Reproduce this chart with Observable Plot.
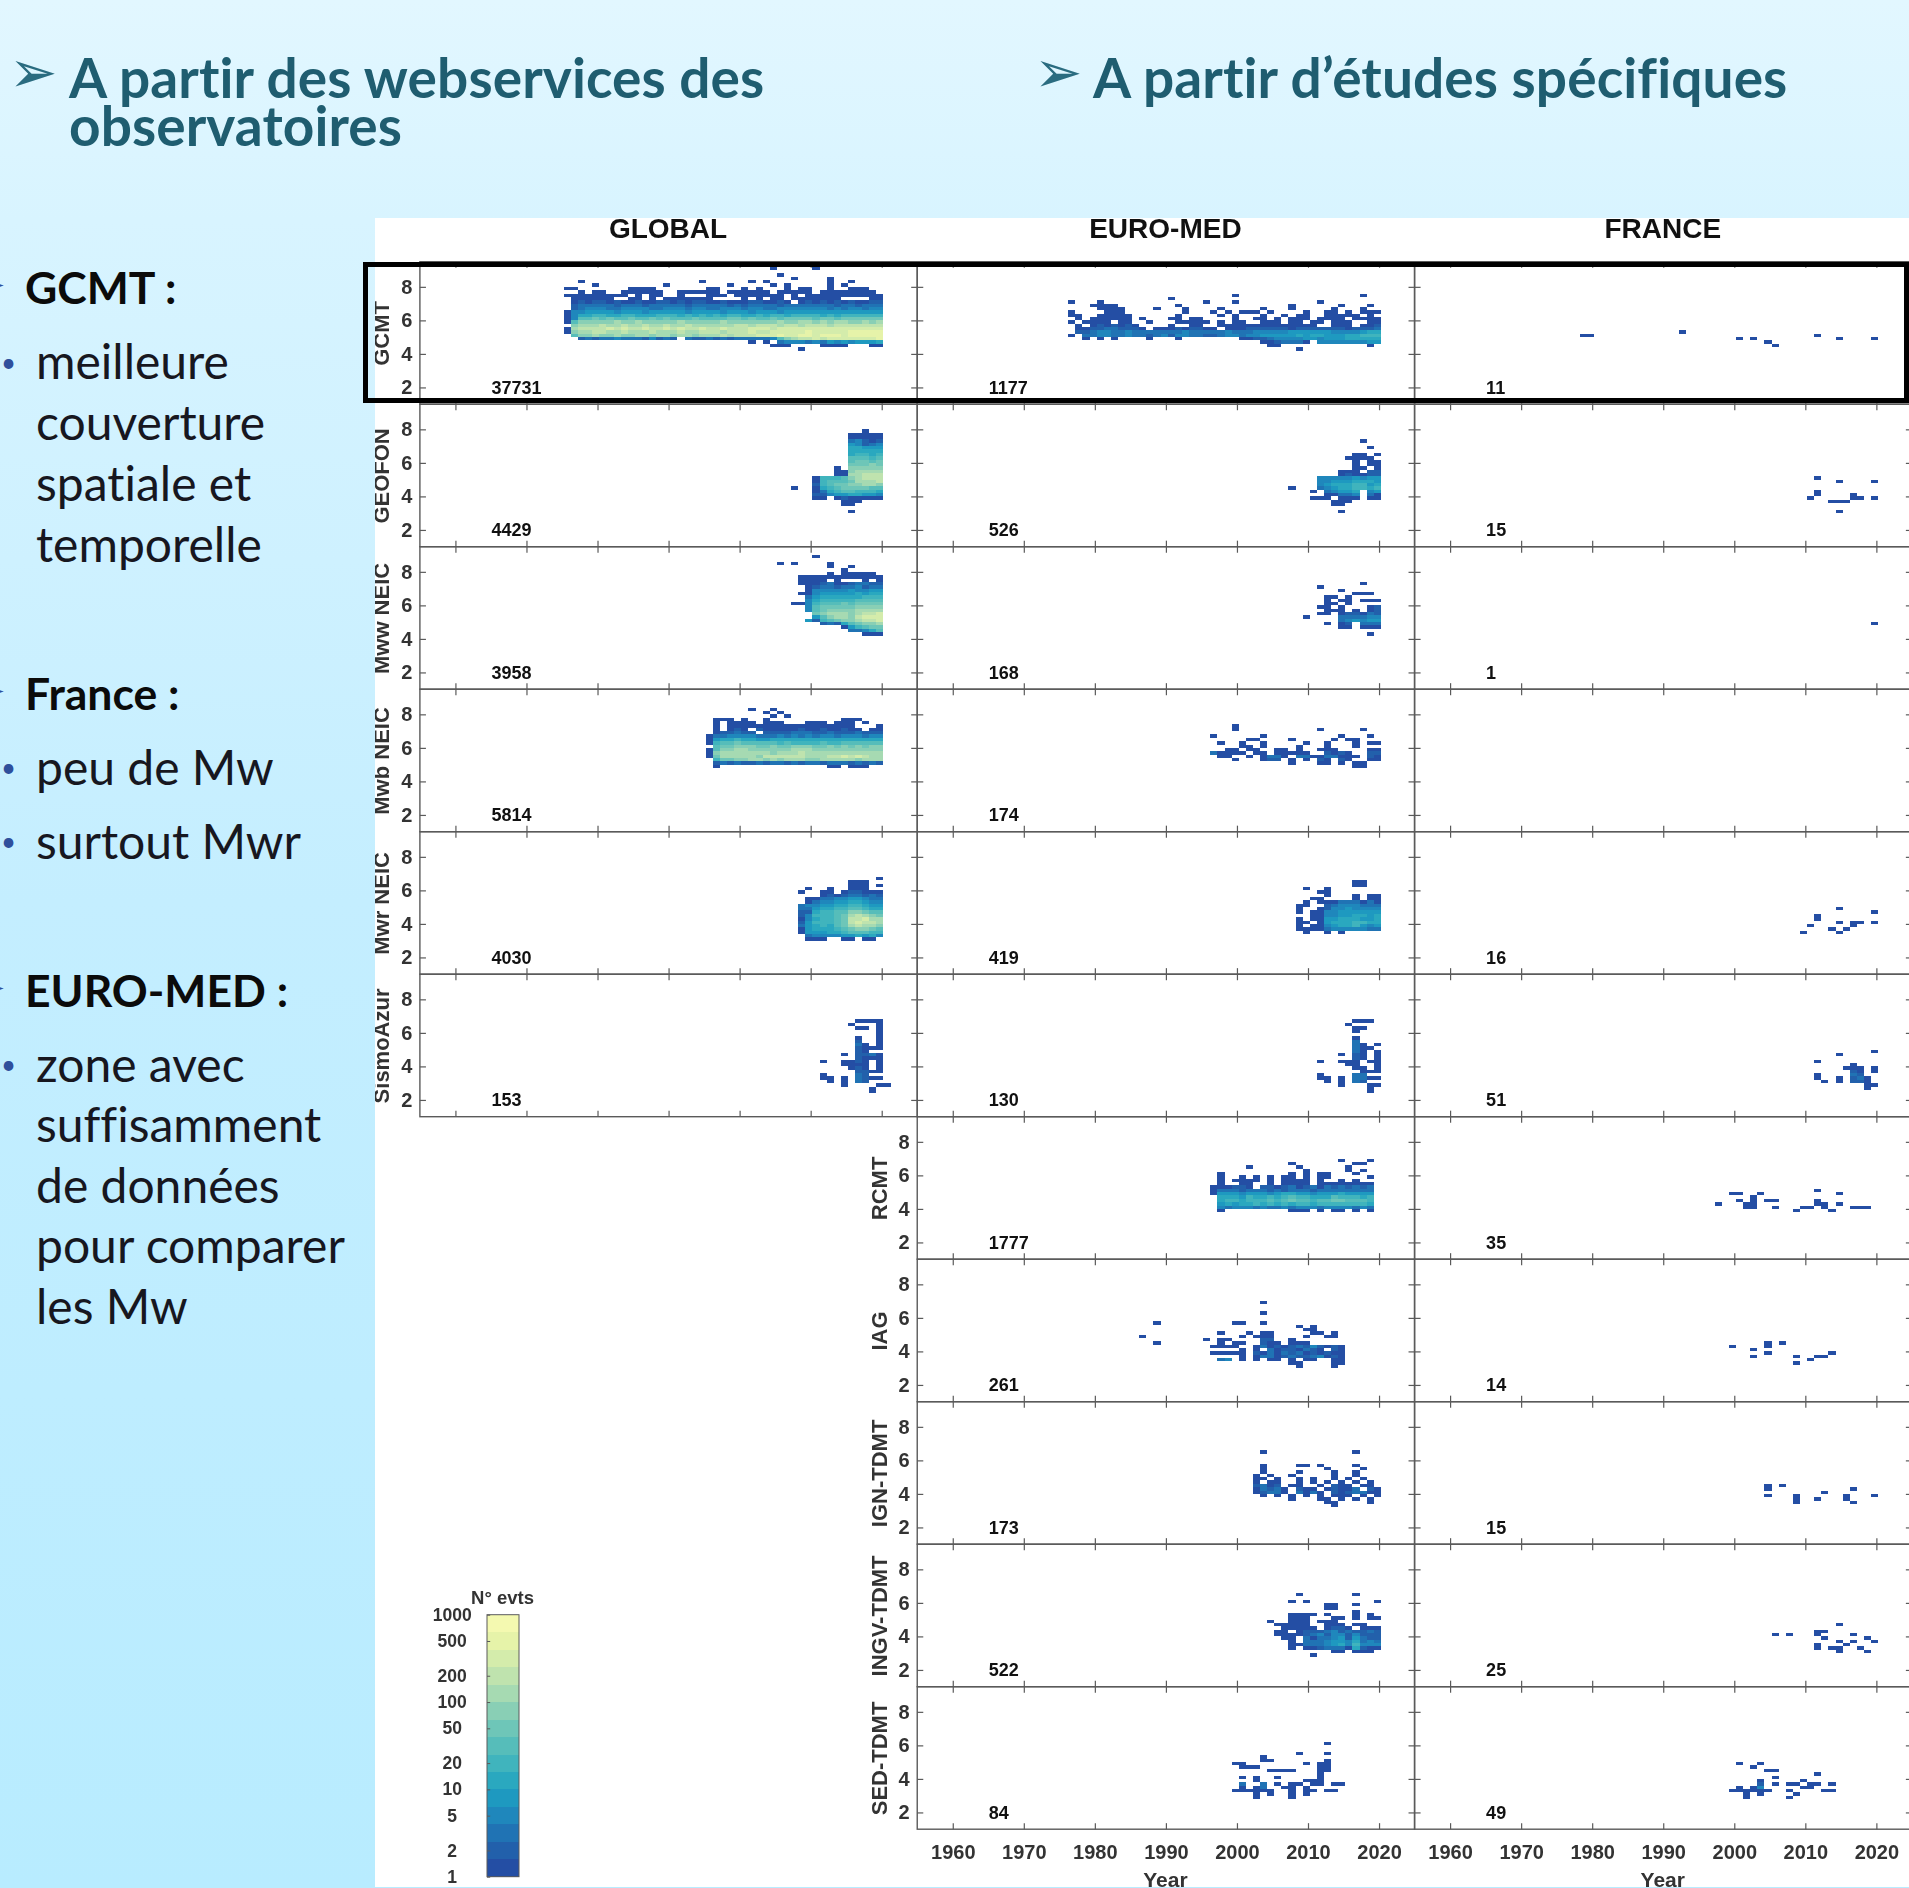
<!DOCTYPE html>
<html lang="fr">
<head>
<meta charset="utf-8">
<script src="https://cdn.jsdelivr.net/npm/d3@7"></script>
<script src="https://cdn.jsdelivr.net/npm/@observablehq/plot@0.6"></script>
<style>
html,body{margin:0;padding:0;width:1909px;height:1888px;overflow:hidden}
body{position:relative;background:linear-gradient(180deg,#e2f7ff 0,#d8f4ff 220px,#c4eeff 900px,#b8ecff 1888px);font-family:Lato,sans-serif;font-variant-ligatures:none}
.t{position:absolute;white-space:nowrap;line-height:1}
.h{font-weight:700;color:#1f5d70;font-size:55px;letter-spacing:.1px}
.b{font-weight:700;color:#0b0b0b;font-size:44.5px}
.p{font-weight:400;color:#17171f;font-size:48px}
.dot{color:#2f4f9c;font-size:26px}
.arr{font-family:"DejaVu Sans";color:#2a6c80;font-size:58px}
.mini{font-family:"DejaVu Sans";color:#2f4f9c;font-size:30px}
#box{position:absolute;left:363px;top:262px;width:1536px;height:131px;border:5px solid #000}
svg{position:absolute;display:block}
</style>
</head>
<body>
<script>
// ---- Text of the slide
const HEADINGS = [["A partir des webservices des",69,50],["observatoires",69,98],["A partir d’études spécifiques",1093,50]];
const ARROWS = [["➢",9,43],["➢",1034,43]];
const BOLD_LINES = [["GCMT :",25,265],["France :",25,671],["EURO-MED :",25,968]];
const PLAIN_LINES = [["meilleure",36,337],["couverture",36,398],["spatiale et",36,459],["temporelle",36,520],["peu de Mw",36,743],["surtout Mwr",36,817],["zone avec",36,1040],["suffisamment",36,1100],["de données",36,1161],["pour comparer",36,1221],["les Mw",36,1282]];
const BULLETS = [["•",1,349],["•",1,754],["•",1,828],["•",1,1051]];
const MINI_ARROWS = [["➢",-20,270],["➢",-20,676],["➢",-20,973]];

// ---- Chart structure
const COLUMNS = ["GLOBAL","EURO-MED","FRANCE"];
const ROWS = ["GCMT","GEOFON","Mww NEIC","Mwb NEIC","Mwr NEIC","SismoAzur","RCMT","IAG","IGN-TDMT","INGV-TDMT","SED-TDMT"];
const YEAR_TICKS = [1960,1970,1980,1990,2000,2010,2020];
const MAG_TICKS = [2,4,6,8];
const LEGEND_TICKS = [1,2,5,10,20,50,100,200,500,1000];
const COLOR_EDGES = [1.6,2.5,4,6.3,10,16,25,40,63,100,158,251,398,631];
const COLORS = ["#244ea4","#2260ab","#2073b4","#1f87bc","#1e99c0","#2aa8bf","#40b4bd","#56bdba","#6ec6b8","#89cfb5","#a6dab2","#bfe3ae","#d4ecab","#e6f3a9","#f4f9b0"];
const LEVEL_COUNTS = [1,2,3,5,8,13,20,32,50,80,126,200,316,500,800];

// ---- Cells: "magnitude firstYear levels" (levels read by colour band, . = empty, spaces only group years)
const GCMT_GLOBAL = [
"9.0 1976 ..... ..... ..... ..... ..... ....1 ..... 1.... .....",
"8.6 1976 ..... ..... ..... ..... ..... ..... 1.... ..... .....",
"8.4 1976 ..... ..... ..... ..... ..... ..... ..1.. ..1.. .....",
"8.2 1976 ..1.. ..... ..... ....1 ..... .1.1. ..... ..1.. 1....",
"8.0 1976 ....1 ..... ....1 ..... ...1. ....1 .1... ..1.1 .....",
"7.8 1976 11... ....1 111.. ..... 11... 1.1.. .1.11 ..1.. 111..",
"7.6 1976 ..1.1 1..11 1111. .1111 11.11 1111. 11111 .1111 1111.",
"7.4 1976 11111 1111. 1.11. .1... 111.1 11111 1.1.1 11111 11111",
"7.2 1976 .1111 11..1 1.1.1 11111 1.... 1.1.1 1.111 1111. ...11",
"7.0 1976 .1212 21211 21122 12122 11211 12211 21.12 12121 21122",
"6.8 1976 .2333 33233 32333 33233 33323 23333 23333 33323 32333",
"6.6 1976 .2344 43344 44334 44344 33444 34433 44444 44343 44344",
"6.4 1976 14455 55455 54555 55455 55455 54555 45555 55555 55555",
"6.2 1976 14667 76677 66677 76767 67677 66767 76777 76767 77777",
"6.0 1976 14889 89889 88989 88898 88899 89889 89999 89989 99999",
"5.8 1976 18aaa aabaa baaaa abaaa aabaa aaaaa baabb abab b aabab",
"5.6 1976 .abbb cbbcb bcbbc bbcbb bbbbc cbccc bccbc ccbcc ccccc",
"5.4 1976 1bccc cdcdc cdccd cdccd ccdcc cdddc ddddd ddddd ddddd",
"5.2 1976 1abbc cbbcb bbcbb bcbbc ccbcc cdccd dddde ddddd eeeee",
"5.0 1976 .8aab aabaa bbabb abbab bbcbc ccddd eddee deeed eeeee",
"4.8 1976 ..232 33433 32423 2.322 32323 33334 8abcc dcddd dddde",
"4.6 1976 ..... ..... ..... ..... ..... .1.1. 34443 43545 45556",
"4.4 1976 ..... ..... ..... ..... ..... ....1 11... .1111 ...11",
"4.2 1976 ..... ..... ..... ..... ..... ..... ...1. ..... ....."];
const GEOFON_GLOBAL = [
"7.8 2011 ..... ..1..",
"7.6 2011 ..... 11111",
"7.4 2011 ..... 11111",
"7.2 2011 ..... 34212",
"7.0 2011 ..... 54234",
"6.8 2011 ..... 66555",
"6.6 2011 ..... 66666",
"6.4 2011 ..... 67767",
"6.2 2011 ..... 88878",
"6.0 2011 ..... 89989",
"5.8 2011 ..... 999a9",
"5.6 2011 ...1. aaaaa",
"5.4 2011 ...11 abbbb",
"5.2 2011 ...11 bbccc",
"5.0 2011 17778 abccc",
"4.8 2011 17888 9bbbc",
"4.6 2011 27899 aabba",
"4.4 2008 1.. 16789 99988",
"4.2 2011 13678 87776",
"4.0 2011 22455 66554",
"3.8 2011 11.12 11111",
"3.6 2011 ....1 11...",
"3.4 2011 ....1 1....",
"3.0 2011 ..... 1...."];
const MWW_GLOBAL = [
"8.8 2011 1",
"8.4 2006 1.1.. ..1",
"8.2 2013 1..1",
"8.0 2015 1",
"7.8 2013 1.1 1111",
"7.6 2009 11 11111 11111",
"7.4 2009 11 11.1. ..1.1",
"7.2 2009 11 12311 23322",
"7.0 2009 .1 23323 34233",
"6.8 2009 .1 44444 54455",
"6.6 2009 11 45555 56566",
"6.4 2009 .3 56666 66777",
"6.2 2009 .4 67777 78888",
"6.0 2008 114 78889 89999",
"5.8 2010 4 89999 9aaaa",
"5.6 2010 4 89aaa abbbb",
"5.4 2011 9abbb abccd",
"5.2 2011 58abb acddd",
"5.0 2010 5 2789a abccd",
"4.8 2012 232 689aa b",
"4.6 2015 157899",
"4.4 2016 33468",
"4.2 2018 111"];
const MWB_GLOBAL = [
"8.2 1996 ..... .1..1 ..... ..... .....",
"8.0 1996 ..... ...1. 1.... ..... .....",
"7.8 1996 ..... ....1 .1... ..... .....",
"7.6 1996 .111. 1..1. ..... ....1 11...",
"7.4 1996 .1.11 11.11 1...1 11.11 1.1..",
"7.2 1996 .1.11 11111 11111 11111 1...1",
"7.0 1996 .1.12 1.211 11121 12112 11.11",
"6.8 1996 .1223 22.22 22333 22322 23222",
"6.6 1996 13344 44333 43434 34434 44344",
"6.4 1996 15667 66556 66666 66666 66666",
"6.2 1996 17889 88888 78777 78778 88888",
"6.0 1996 .899a aa99a 99aaa 99a9a 9a9aa",
"5.8 1996 18aab baaaa aabbb aaaaa aaaaa",
"5.6 1996 1abbb bbbba bbbcb bbbbb bbbbb",
"5.4 1996 19bbb bbacc ccccb bbccd cdcbb",
"5.2 1996 .799a abbab abbba abbbb babbb",
"5.0 1996 .2323 22323 32323 32333 23232",
"4.8 1996 .1... ..... ..... ..11. 111.."];
const MWR_GLOBAL = [
"6.6 2020 1",
"6.4 2016 111",
"6.2 2016 111.1",
"6.0 2009 .1 ..1.. 111..",
"5.8 2009 1. .11.1 22111",
"5.6 2009 .. .1212 33232",
"5.4 2009 .1 13344 55433",
"5.2 2009 .1 34455 66544",
"5.0 2009 34 45566 77655",
"4.8 2009 33 56677 88766",
"4.6 2009 22 67788 aa988",
"4.4 2009 24 77789 bcba9",
"4.2 2009 14 67789 ccdbb",
"4.0 2009 25 77789 cdccb",
"3.8 2009 35 67689 bcbba",
"3.6 2009 15 66678 9aa98",
"3.4 2009 15 55667 88877",
"3.2 2009 .3 44445 56564",
"3.0 2010 111..11.11"];
const SISMO_GLOBAL = [
"6.6 2017 1111",
"6.4 2016 1...1",
"6.2 2017 11.1",
"6.0 2020 1",
"5.8 2020 1",
"5.6 2017 1..1",
"5.4 2017 2..1",
"5.2 2017 31.1",
"5.0 2017 2111",
"4.8 2017 21",
"4.6 2015 1.22 31",
"4.4 2017 2111",
"4.2 2012 1..1 121.1",
"4.0 2015 1111 .1",
"3.8 2016 121.1",
"3.6 2017 2211",
"3.4 2012 1.... 32",
"3.2 2012 11.1 .3211",
"3.0 2013 1.1 .32",
"2.8 2015 1.... 11",
"2.6 2019 1",
"2.4 2019 1"];
const GCMT_EURO = [
"7.4 1976 ..... ..... ..... ..... ....1 ..... ..... ..... ..1..",
"7.2 1976 ..... ..... ..... 1.... ..... ..... ..... ..... .....",
"7.0 1976 .1... 1.... ..... ..... 1...1 ..... ..... .1... .....",
"6.8 1976 ....1 111.. ..... .1... ..... ..... ..1.. ....1 ...1.",
"6.6 1976 ..... 1111. ...1. ..1.. ..1.. ...1. ..1.. ...1. ..1..",
"6.4 1976 .1... .111. ..... ..1.. .1.1. 111.1 ....1 ..11. 1.111",
"6.2 1976 .11.. 11111 ..... .1... ..1.1 ...1. .1.11 ..111 11.1.",
"6.0 1976 ..1.1 11111 .1... 11.11 ....1 ..11. 1.111 .1111 .1111",
"5.8 1976 .1.11 11.11 ..1.. .1111 1.1.1 1..11 1.11. 11.11 1..11",
"5.6 1976 ..1.1 21212 1.... 1..11 ..111 11111 11111 1..11 1.112",
"5.4 1976 ..112 23322 21.11 12122 11.11 12222 22122 22222 12223",
"5.2 1976 ..223 44334 33333 33433 33343 33444 44555 55544 44566",
"5.0 1976 .1.33 44334 33234 24433 22344 34455 55565 66555 66777",
"4.8 1976 ...1. 1.1.. ..1.. .1... ..... 11223 44445 54555 66666",
"4.6 1976 ..... ..... ..... ..... ..... ...11 23331 .4444 44455",
"4.4 1976 ..... ..... ..... ..... ..... ....1 1.... ..... ...1.",
"4.2 1976 ..... ..... ..... ..... ..... ..... ...1. ..... ....."];
const GEOFON_EURO = [
"7.2 2011 ..... ..1..",
"6.8 2011 ..... ...1.",
"6.4 2011 ..... .11.1",
"6.2 2011 ..... 1111.",
"6.0 2011 ..... .1.11",
"5.8 2011 ..... .1.11",
"5.6 2011 ..... .11.1",
"5.4 2011 ....1 11.22",
"5.2 2011 ....1 21122",
"5.0 2011 .4444 45455",
"4.8 2011 .4455 56665",
"4.6 2011 .4566 67756",
"4.4 2008 1.. .3456 67767",
"4.2 2011 1.345 56.45",
"4.0 2011 ..113 34.31",
"3.8 2011 111.1 11.11",
"3.6 2011 ...11 1....",
"3.4 2011 ...11 .....",
"3.0 2011 ....1 ....."];
const MWW_EURO = [
"7.2 2011 ..... ..1..",
"7.0 2011 .1... .....",
"6.8 2011 ....1 .....",
"6.6 2011 ..... .111.",
"6.4 2011 ..11. 1....",
"6.2 2011 ..1.1 1.111",
"6.0 2011 ..11. 1....",
"5.8 2011 .11.1 ...12",
"5.6 2011 ..111 .1.12",
"5.4 2011 .11.1 22132",
"5.2 2010 1 ....3 33344",
"5.0 2011 ....3 45455",
"4.8 2011 ..1.1 2.333",
"4.6 2011 ....1 1.111",
"4.2 2011 ..... ...1."];
const MWB_EURO = [
"7.2 1996 ....1 ..... ..... ..... .....",
"7.0 1996 ....1 ..... ..... .1... ..1..",
"6.6 1996 .1... ...1. ..... ....1 ...1.",
"6.4 1996 ..... .11.. ..1.. ...1. 11...",
"6.2 1996 ..1.. 1..1. ....1 ..1.. .1.11",
"6.0 1996 ..... 11.1. ...1. ..1.. .1...",
"5.8 1996 ...11 .11.. 11.1. .111. ...11",
"5.6 1996 .3111 1.11. 11111 ..212 1..22",
"5.4 1996 ..11. .1.13 31.33 11331 11.21",
"5.2 1996 ....1 ...12 2.1.1 .21.2 1..11",
"5.0 1996 ..... ..... ..1.. .11.1 .11..",
"4.8 1996 ..... ..... ..... ..... .11.."];
const MWR_EURO = [
"6.4 2009 .. ..... .11..",
"6.2 2009 .. ..... .11..",
"6.0 2009 .1 ..1.. .....",
"5.8 2009 .. .11.. .....",
"5.6 2009 .. ..1.. .1.11",
"5.4 2009 .. 11... .1.11",
"5.2 2009 .1 .1113 33131",
"5.0 2009 11 ..234 44333",
"4.8 2009 1. .1244 54444",
"4.6 2009 1. 11445 55555",
"4.4 2009 .. 11445 56656",
"4.2 2009 1. 11556 66556",
"4.0 2009 11 .1566 67766",
"3.8 2009 1. 11456 67545",
"3.6 2009 11 11344 44433",
"3.4 2009 .1 ..1.1 ....."];
const SISMO_EURO = [
"6.6 2012 .... .111.",
"6.4 2012 .... 1....",
"6.2 2012 .... .11..",
"6.0 2012 .... .1...",
"5.6 2012 .... .1...",
"5.4 2012 .... .3...",
"5.2 2012 .... .31.1",
"5.0 2012 .... .311.",
"4.8 2012 .... .31.1",
"4.6 2012 ...1 .21.1",
"4.4 2012 .... .21.1",
"4.2 2012 1..1 11.11",
"4.0 2012 .... 11..1",
"3.8 2012 .... .11.1",
"3.6 2012 .... ..111",
"3.4 2012 1... .33..",
"3.2 2012 11.1 .3311",
"3.0 2012 .1.1 .32..",
"2.8 2012 ...1 ...11",
"2.6 2012 .... ...1.",
"2.4 2012 .... ...1."];
const RCMT_EURO = [
"6.8 1996 ..... ..... ..... ....1 ...1",
"6.6 1996 ..... ..... ..1.. ..... .11.",
"6.4 1996 ..... .1... ...1. ..... 1...",
"6.2 1996 ..... ..... ....1 ..... 1.1.",
"6.0 1996 ..1.. ..... ..1.1 .11.. .1..",
"5.8 1996 ..1.. 1.1.1 .11.1 .11.. ...1",
"5.6 1996 ..1.1 111.1 .1111 .1..1 .1..",
"5.4 1996 ..1.. 11..1 .1111 .1111 1111",
"5.2 1996 .1112 21.22 12312 31323 2323",
"5.0 1996 .1333 23332 32333 23333 3333",
"4.8 1996 .1555 45554 56655 45556 5555",
"4.6 1996 ..666 57667 67877 66687 7767",
"4.4 1996 ..677 67778 78988 78899 8887",
"4.2 1996 ..565 66767 67677 67777 7776",
"4.0 1996 ..434 44343 34344 43444 4343",
"3.8 1996 ..1.. ..... ..111 .1.11 .1.1"];
const IAG_EURO = [
"6.8 1996 ..... ...1.",
"6.2 1996 ..... ...1.",
"5.6 1989 1",
"5.6 1996 ....1 1..1.",
"5.4 1996 ..... ..... ...1. 1....",
"5.2 1996 ..... ..... ....1 1....",
"5.0 1996 ..1.. .1.11 ..... 11.1.",
"4.8 1987 1",
"4.8 1996 ..... 1.111 ....1 ..11.",
"4.6 1996 1.11. ...22 ..1..",
"4.4 1989 1",
"4.4 1996 ..1.1 1..21 1.111 .....",
"4.2 1996 .1111 ..131 21232 42121",
"4.0 1996 ..... 1.1.3 12213 21.21",
"3.8 1996 .1111 1.213 13231 21211",
"3.6 1996 ..... 1.133 12322 34121",
"3.4 1996 ..34. 1.1.1 1.1.1 1..11",
"3.2 1996 ..... ..... ..11. ...11",
"3.0 1996 ..... ..... ...1. ...1."];
const IGN_EURO = [
"6.4 2001 ...1. ..... ..... .1...",
"5.6 2001 ...1. ...11 .1... .1...",
"5.4 2001 ...1. ..... ..1.. ..1..",
"5.2 2001 ...1. ...1. ...1. .1...",
"5.0 2001 ..1.1 ..1.. ...1. .1...",
"4.8 2001 ..11. 1..1. 1..1. 1.1..",
"4.6 2001 ..1.1 1..1. 1.1.1 .1.1.",
"4.4 2001 ..231 2.11. .1.21 1.11.",
"4.2 2001 ..132 31.21 1.121 13.21",
"4.0 2001 ..123 31.31 31.21 23311",
"3.8 2001 ...1. 1.1.1 .1.11 1.1.1",
"3.6 2001 ..... ..1.. .11.1 .1.1.",
"3.4 2001 ..... ..... ..11. ...1.",
"3.2 2001 ..... ..... ...1. ....."];
const INGV_EURO = [
"6.4 2005 . ...1. ..... .1...",
"6.0 2005 . ..1.1 ..... ....1",
"5.8 2005 . ..... ..11. .1...",
"5.6 2005 . ..... ..11. .....",
"5.4 2005 . ..... ..... .1...",
"5.2 2005 . ..111 1.1.. .1.1.",
"5.0 2005 . ..111 ...11 .1.11",
"4.8 2005 1 ..111 .111. .....",
"4.6 2005 . 11111 ..111 .11..",
"4.4 2005 . .1111 1.122 1.111",
"4.2 2005 . 11.12 22342 32232",
"4.0 2005 . 11112 34244 24222",
"3.8 2005 . .11.3 13345 25322",
"3.6 2005 . ..1.3 33455 46343",
"3.4 2005 . ..113 33456 47444",
"3.2 2005 . ..1.1 12333 16211",
"3.0 2005 . ..... ...11 .111.",
"2.8 2005 . ..... 1.... ....."];
const SED_EURO = [
"6.0 2000 . ..... ..... ..1..",
"5.4 2000 . ..... ...1. ..1..",
"5.2 2000 . ...1. ..... .....",
"5.0 2000 . ...11 ..... ..1..",
"4.8 2000 1 1.... ....1 .11..",
"4.6 2000 . 111.. ..... .11..",
"4.4 2000 . ....1 111.. .11..",
"4.2 2000 . ..... ..... .1...",
"4.0 2000 . 1.1.. 1.... .1...",
"3.8 2000 . ..1.. ....1 11...",
"3.6 2000 . 3..3. 1.11. 11.11",
"3.4 2000 . 1.13. .11.1 .....",
"3.2 2000 1 11111 ..1.1 1.11.",
"3.0 2000 . ..1.1 ..1.1 .....",
"2.8 2000 . ..1.. ..1.. ....."];
const GCMT_FRANCE = ["5.2 1993 1","5.0 1979 11","5.0 2012 1","4.8 2001 1.1","4.8 2015 1","4.8 2020 1","4.6 2005 1","4.4 2006 1"];
const GEOFON_FRANCE = ["5.0 2012 1","4.8 2015 1","4.8 2020 1","4.2 2012 1","4.0 2012 1","4.0 2017 1","3.8 2011 1","3.8 2017 11.1","3.6 2014 111","3.0 2015 1"];
const MWW_FRANCE = ["4.8 2020 1"];
const MWB_FRANCE = [];
const MWR_FRANCE = ["4.8 2015 1","4.6 2020 1","4.4 2012 1","4.2 2012 1","4.0 2015 1.11.1","3.8 2011 1","3.8 2017 1","3.6 2014 1.1","3.4 2010 1","3.4 2015 1"];
const SISMO_FRANCE = ["4.8 2020 1","4.6 2015 1","4.2 2012 1","4.0 2017 1","3.8 2016 111.1","3.6 2017 21.1","3.4 2012 1","3.4 2017 32","3.2 2012 1..1","3.2 2017 231","3.0 2013 1.1","3.0 2017 221","2.8 2019 11","2.6 2019 1"];
const RCMT_FRANCE = ["5.0 2012 1","4.8 2000 11..1","4.8 2015 1","4.6 2003 1","4.4 2001 1.1.11","4.4 2012 1","4.2 1998 1","4.2 2002 11","4.2 2012 11.1","4.0 2002 11","4.0 2006 1","4.0 2010 11.1","4.0 2017 111","3.8 2009 1","3.8 2014 1"];
const IAG_FRANCE = ["4.4 2005 1.1","4.2 2000 1","4.2 2005 1","4.0 2003 1","3.8 2005 1","3.8 2014 1","3.6 2003 1","3.6 2009 1","3.6 2012 11","3.4 2011 1","3.2 2009 1"];
const IGN_FRANCE = ["4.4 2005 1.1","4.2 2005 1","4.2 2017 1","4.0 2013 1","3.8 2005 1","3.8 2009 1","3.8 2016 1","3.8 2020 1","3.6 2009 1","3.6 2012 1","3.6 2016 1","3.4 2009 1","3.4 2017 1"];
const INGV_FRANCE = ["4.6 2015 1","4.2 2012 11","4.0 2006 1.1","4.0 2012 1","4.0 2017 1","3.8 2013 1","3.8 2019 1","3.6 2015 1.1","3.6 2020 1","3.4 2012 1","3.4 2016 1","3.2 2012 1","3.2 2014 11","3.2 2018 1","3.0 2015 1","3.0 2019 1"];
const SED_FRANCE = ["4.8 2001 1..1","4.6 2003 1","4.4 2005 11","4.2 2012 1","4.0 2006 1","3.8 2004 1","3.8 2010 1","3.6 2004 2","3.6 2006 1.11","3.6 2011 11","3.6 2014 1","3.4 2001 1.14","3.4 2010 11","3.2 2000 111111","3.2 2008 1","3.2 2013 11","3.0 2002 1.1","3.0 2009 1","2.8 2002 1","2.8 2008 1"];

// column, row, event total, cells
const PANELS = [
["GLOBAL","GCMT",37731,GCMT_GLOBAL],["GLOBAL","GEOFON",4429,GEOFON_GLOBAL],["GLOBAL","Mww NEIC",3958,MWW_GLOBAL],["GLOBAL","Mwb NEIC",5814,MWB_GLOBAL],["GLOBAL","Mwr NEIC",4030,MWR_GLOBAL],["GLOBAL","SismoAzur",153,SISMO_GLOBAL],
["EURO-MED","GCMT",1177,GCMT_EURO],["EURO-MED","GEOFON",526,GEOFON_EURO],["EURO-MED","Mww NEIC",168,MWW_EURO],["EURO-MED","Mwb NEIC",174,MWB_EURO],["EURO-MED","Mwr NEIC",419,MWR_EURO],["EURO-MED","SismoAzur",130,SISMO_EURO],["EURO-MED","RCMT",1777,RCMT_EURO],["EURO-MED","IAG",261,IAG_EURO],["EURO-MED","IGN-TDMT",173,IGN_EURO],["EURO-MED","INGV-TDMT",522,INGV_EURO],["EURO-MED","SED-TDMT",84,SED_EURO],
["FRANCE","GCMT",11,GCMT_FRANCE],["FRANCE","GEOFON",15,GEOFON_FRANCE],["FRANCE","Mww NEIC",1,MWW_FRANCE],["FRANCE","Mwb NEIC",null,MWB_FRANCE],["FRANCE","Mwr NEIC",16,MWR_FRANCE],["FRANCE","SismoAzur",51,SISMO_FRANCE],["FRANCE","RCMT",35,RCMT_FRANCE],["FRANCE","IAG",14,IAG_FRANCE],["FRANCE","IGN-TDMT",15,IGN_FRANCE],["FRANCE","INGV-TDMT",25,INGV_FRANCE],["FRANCE","SED-TDMT",49,SED_FRANCE]
].map(([col,row,total,lines])=>({col,row,total,lines}));

// ---- Slide text
function addText(list,cls){for(const [s,x,y] of list){const d=document.createElement("div");d.className="t "+cls;d.textContent=s;d.style.left=x+"px";d.style.top=y+"px";document.body.appendChild(d);}}
addText(HEADINGS,"h");addText(ARROWS,"arr");addText(BOLD_LINES,"b");addText(PLAIN_LINES,"p");addText(BULLETS,"dot");addText(MINI_ARROWS,"mini");

// ---- Tables for the marks
const cells = PANELS.flatMap(p=>p.lines.flatMap(line=>{
  const [m,y,...g]=line.split(" ");
  return [...g.join("")].flatMap((c,i)=>c==="."?[]:[{col:p.col,row:p.row,year:+y+i,mag:+m,count:LEVEL_COUNTS[parseInt(c,16)-1]}]);
}));
const isLeft = p => p.col==="GLOBAL" || (p.col==="EURO-MED" && ROWS.indexOf(p.row)>5);
const leftPanels = PANELS.filter(isLeft);
const yearTicks = PANELS.flatMap(p=>YEAR_TICKS.map(year=>({col:p.col,row:p.row,year})));
const magTicks = PANELS.flatMap(p=>MAG_TICKS.map(mag=>({col:p.col,row:p.row,mag})));
const magLabels = leftPanels.flatMap(p=>MAG_TICKS.map(mag=>({col:p.col,row:p.row,mag})));
const yearLabels = ["EURO-MED","FRANCE"].flatMap(col=>YEAR_TICKS.map(year=>({col,row:"SED-TDMT",year})));
const FF="'Liberation Sans',Arial,sans-serif", INK="#333", AXIS="#5a5a5a";
const X0=1955,X1=2025,Y0=1,Y1=9.5;
const facet={fx:"col",fy:"row"};

const chart = Plot.plot({
  width:1534,height:1669,marginLeft:44.9,marginRight:-2.9,marginTop:43.7,marginBottom:57.8,
  style:{background:"#fff",fontFamily:FF,left:"375px",top:"218px",overflow:"hidden",filter:"blur(0.45px)"},
  fx:{domain:COLUMNS,padding:0,round:false,axis:null},
  fy:{domain:ROWS,padding:0,round:false,axis:null},
  x:{domain:[X0,X1],axis:null},
  y:{domain:[Y0,Y1],axis:null},
  color:{type:"threshold",domain:COLOR_EDGES,range:COLORS},
  marks:[
    Plot.rect(cells,{x1:d=>d.year-0.75,x2:d=>d.year+0.25,y1:"mag",y2:d=>d.mag+0.2,fill:"count",shapeRendering:"crispEdges",...facet}),
    Plot.rect(PANELS,{x1:()=>X0,x2:()=>X1,y1:()=>Y0,y2:()=>Y1,fill:"none",stroke:AXIS,strokeWidth:1.4,...facet}),
    Plot.ruleX(yearTicks,{x:"year",y1:()=>Y0,y2:()=>Y0+0.36,stroke:AXIS,strokeWidth:1.2,...facet}),
    Plot.ruleX(yearTicks,{x:"year",y1:()=>Y1-0.36,y2:()=>Y1,stroke:AXIS,strokeWidth:1.2,...facet}),
    Plot.ruleY(magTicks,{y:"mag",x1:()=>X0,x2:()=>X0+0.85,stroke:AXIS,strokeWidth:1.2,...facet}),
    Plot.ruleY(magTicks,{y:"mag",x1:()=>X1-0.85,x2:()=>X1,stroke:AXIS,strokeWidth:1.2,...facet}),
    Plot.text(magLabels,{x:()=>X0,y:"mag",text:"mag",dx:-8,textAnchor:"end",fontSize:20,fontWeight:"bold",fill:INK,...facet}),
    Plot.text(yearLabels,{x:"year",y:()=>Y0,text:d=>String(d.year),dy:23,fontSize:20,fontWeight:"bold",fill:INK,...facet}),
    Plot.text(leftPanels,{text:"row",frameAnchor:"left",textAnchor:"middle",dx:-38,rotate:-90,fontSize:22,fontWeight:"bold",fill:INK,...facet}),
    Plot.text(PANELS.filter(p=>p.total!==null),{x:()=>1965,y:()=>2,text:d=>String(d.total),textAnchor:"start",fontSize:18,fontWeight:"bold",fill:"#111",...facet}),
    Plot.text(COLUMNS,{fx:d=>d,fy:()=>"GCMT",text:d=>d,frameAnchor:"top",dx:-1,dy:-33,lineAnchor:"middle",fontSize:28,fontWeight:"bold",fill:"#111"}),
    Plot.text(["EURO-MED","FRANCE"],{fx:d=>d,fy:()=>"SED-TDMT",text:()=>"Year",frameAnchor:"bottom",dx:-1,dy:51,lineAnchor:"middle",fontSize:21,fontWeight:"bold",fill:INK})
  ]
});
document.body.appendChild(chart);

// ---- Colour bar
const legendBands = d3.pairs([1,...COLOR_EDGES,1000]).map(([lo,hi])=>({lo,hi,mid:Math.sqrt(lo*hi)}));
const legend = Plot.plot({
  width:110,height:301,marginLeft:62,marginRight:16,marginTop:28.7,marginBottom:10.3,
  style:{background:"transparent",fontFamily:FF,left:"425px",top:"1586px",filter:"blur(0.45px)"},
  x:{domain:[0,1],axis:null},
  y:{type:"log",domain:[1,1000],axis:null},
  color:{type:"threshold",domain:COLOR_EDGES,range:COLORS},
  marks:[
    Plot.rect(legendBands,{x1:()=>0,x2:()=>1,y1:"lo",y2:"hi",fill:"mid",shapeRendering:"crispEdges"}),
    Plot.rect([0],{x1:()=>0,x2:()=>1,y1:()=>1,y2:()=>1000,fill:"none",stroke:AXIS,strokeWidth:1}),
    Plot.ruleY(LEGEND_TICKS,{y:d=>d,x1:()=>0,x2:()=>0.1,stroke:AXIS}),
    Plot.text(LEGEND_TICKS,{x:()=>0,y:d=>d,text:d=>String(d),dx:-35.3,fontSize:17.5,fontWeight:"bold",fill:INK}),
    Plot.text(["N° evts"],{text:d=>d,frameAnchor:"top",dx:-1,dy:-17,lineAnchor:"middle",fontSize:18.5,fontWeight:"bold",fill:INK})
  ]
});
document.body.appendChild(legend);

const box=document.createElement("div");box.id="box";document.body.appendChild(box);
</script>
</body>
</html>
